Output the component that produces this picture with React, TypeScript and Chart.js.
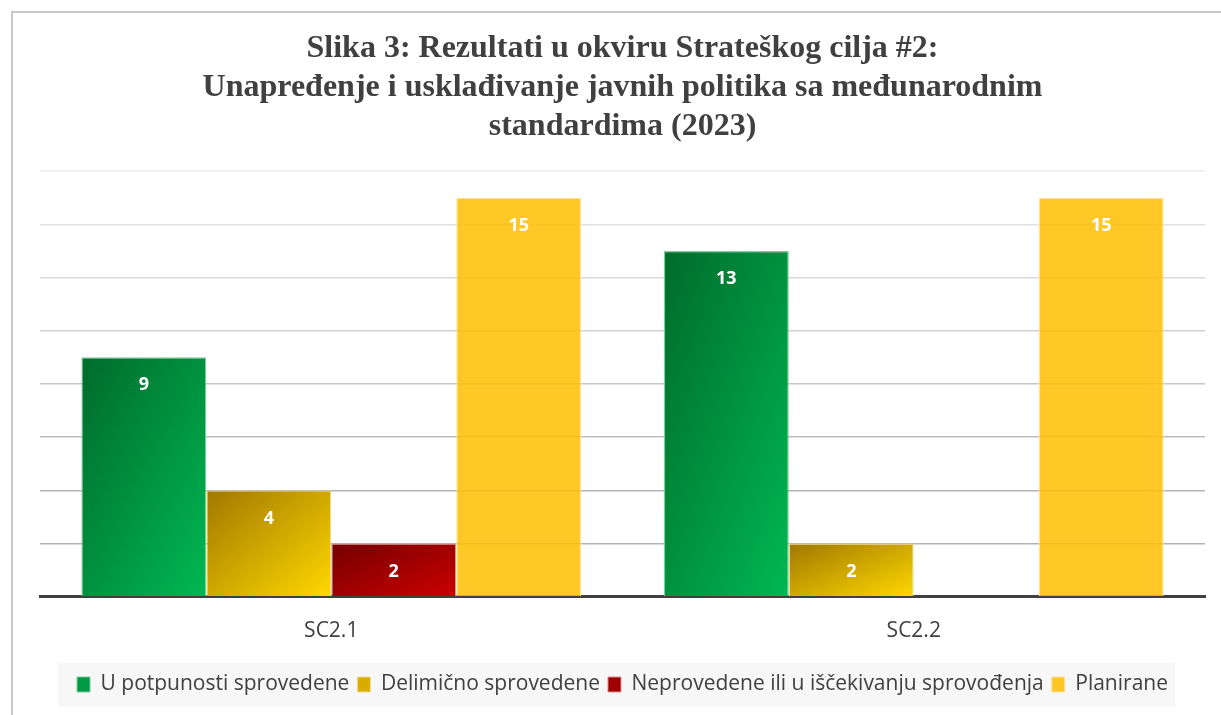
import React, { useEffect, useRef } from "react";
import { Chart, registerables } from "chart.js";

Chart.register(...registerables);

const categories = ["SC2.1", "SC2.2"];
const seriesNames = [
  "U potpunosti sprovedene",
  "Delimično sprovedene",
  "Neprovedene ili u iščekivanju sprovođenja",
  "Planirane",
];
const fullyImplemented = [9, 13];
const partiallyImplemented = [4, 2];
const notImplemented = [2, 0];
const planned = [15, 15];
const titleLines = [
  "Slika 3: Rezultati u okviru Strateškog cilja #2:",
  "Unapređenje i usklađivanje javnih politika sa međunarodnim",
  "standardima (2023)",
];
const yMin = 0;
const yMax = 16;
const yStep = 2;

const CAT_PCT = 0.858;
const TEXT = "#404040";

type Grad = { from: string; to: string; solid: string; border: string; flat?: boolean };
const styles: Grad[] = [
  { from: "#006B2C", to: "#00B852", solid: "#009A44", border: "#7FCB9C" },
  { from: "#A07800", to: "#FFD800", solid: "#D9AC00", border: "#F0DC90" },
  { from: "#740000", to: "#CC0000", solid: "#A00000", border: "#D89090" },
  { from: "rgba(255,190,0,0.85)", to: "rgba(255,190,0,0.85)", solid: "rgba(255,190,0,0.85)", border: "#FFE39A", flat: true },
];

function makeFill(idx: number) {
  const s = styles[idx];
  return (ctx: any) => {
    if (s.flat || ctx.type !== "data") return s.solid;
    const chart = ctx.chart;
    const xs = chart.scales.x;
    const ys = chart.scales.y;
    if (!xs || !ys || !chart.chartArea) return s.solid;
    const center = xs.getPixelForValue(ctx.dataIndex);
    const catW = xs.width / categories.length;
    const groupW = catW * CAT_PCT;
    const barW = groupW / seriesNames.length;
    const left = center - groupW / 2 + ctx.datasetIndex * barW;
    const top = ys.getPixelForValue(ctx.raw || 0);
    const bottom = ys.getPixelForValue(0);
    const W = barW;
    const H = bottom - top;
    if (!isFinite(left) || !isFinite(top) || H < 1) return s.solid;
    // gradient scaled with shape: isolines run corner to corner (anti-diagonal)
    const k = 2 / (1 / (W * W) + 1 / (H * H));
    const g = chart.ctx.createLinearGradient(left, top, left + k / W, top + k / H);
    g.addColorStop(0, s.from);
    g.addColorStop(1, s.to);
    return g;
  };
}

const gridShades: Record<number, string> = {
  16: "#ececec",
  14: "#e2e2e2",
  12: "#d8d8d8",
  10: "#d0d0d0",
  8: "#c6c6c6",
  6: "#bdbdbd",
  4: "#b6b6b6",
  2: "#b3b3b3",
  0: "rgba(0,0,0,0)",
};

const valueLabels = {
  id: "valueLabels",
  afterDatasetsDraw(chart: any) {
    const c = chart.ctx;
    c.save();
    c.fillStyle = "#ffffff";
    c.font = "bold 18px 'Open Sans', sans-serif";
    c.textAlign = "center";
    c.textBaseline = "middle";
    chart.data.datasets.forEach((ds: any, di: number) => {
      const meta = chart.getDatasetMeta(di);
      meta.data.forEach((el: any, i: number) => {
        const v = ds.data[i];
        if (!v) return;
        c.fillText(String(v), el.x, el.y + 28);
      });
    });
    c.restore();
  },
};

const legendBg = {
  id: "legendBg",
  beforeDraw(chart: any) {
    const lg = chart.legend;
    if (!lg || !lg.legendHitBoxes || !lg.legendHitBoxes.length) return;
    const boxes = lg.legendHitBoxes;
    let minX = Infinity, maxX = -Infinity, cy = 0;
    boxes.forEach((b: any) => {
      minX = Math.min(minX, b.left);
      maxX = Math.max(maxX, b.left + b.width);
      cy = b.top + b.height / 2;
    });
    const c = chart.ctx;
    c.save();
    c.fillStyle = "#F7F7F7";
    c.fillRect(minX - 19, cy - 22, maxX - minX + 26, 44);
    c.restore();
  },
};

export default function App() {
  const ref = useRef<HTMLCanvasElement | null>(null);
  useEffect(() => {
    if (!ref.current) return;
    const series = [fullyImplemented, partiallyImplemented, notImplemented, planned];
    const chart = new Chart(ref.current, {
      type: "bar",
      data: {
        labels: categories,
        datasets: series.map((d, i) => ({
          label: seriesNames[i],
          data: d,
          backgroundColor: makeFill(i),
          borderColor: styles[i].border,
          borderWidth: (ctx: any) => (ctx.raw ? 1.2 : 0),
          borderSkipped: "bottom",
          barPercentage: 1,
          categoryPercentage: CAT_PCT,
        })),
      },
      options: {
        animation: false,
        responsive: false,
        maintainAspectRatio: false,
        layout: { padding: { left: 27, right: 16, top: 0, bottom: 10 } },
        plugins: {
          title: {
            display: true,
            text: titleLines,
            color: TEXT,
            font: { family: "'Liberation Serif', serif", size: 32, weight: "bold", lineHeight: 1.22 },
            padding: { top: 16, bottom: 25 },
          },
          legend: {
            position: "bottom",
            labels: {
              color: TEXT,
              font: { family: "'Open Sans', sans-serif", size: 21 },
              boxWidth: 13,
              boxHeight: 15,
              padding: 8,
              generateLabels: (ch: any) =>
                ch.data.datasets.map((ds: any, i: number) => ({
                  text: ds.label,
                  fillStyle: styles[i].solid,
                  strokeStyle: styles[i].border,
                  lineWidth: 1,
                  fontColor: TEXT,
                  datasetIndex: i,
                  hidden: false,
                })),
            },
          },
          tooltip: { enabled: false },
        },
        scales: {
          x: {
            grid: { display: false },
            border: { display: true, color: "#404040", width: 3 },
            ticks: {
              color: TEXT,
              font: { family: "'Open Sans', sans-serif", size: 21 },
              padding: 14,
            },
            afterFit: (scale: any) => {
              scale.height += 8;
            },
          },
          y: {
            min: yMin,
            max: yMax,
            ticks: { display: false, stepSize: yStep },
            border: { display: false },
            grid: {
              drawTicks: false,
              lineWidth: 1.5,
              color: (ctx: any) => gridShades[ctx.tick?.value] ?? "#d0d0d0",
            },
          },
        },
      },
      plugins: [valueLabels, legendBg],
    });
    return () => chart.destroy();
  }, []);

  return (
    <div
      style={{
        position: "absolute",
        left: 11,
        top: 11,
        width: 1210,
        height: 704,
        borderTop: "2px solid #c8c8c8",
        borderLeft: "2px solid #c8c8c8",
        boxSizing: "border-box",
        overflow: "hidden",
        background: "#fff",
      }}
    >
      <canvas ref={ref} width={1208} height={702} style={{ display: "block" }} />
    </div>
  );
}
